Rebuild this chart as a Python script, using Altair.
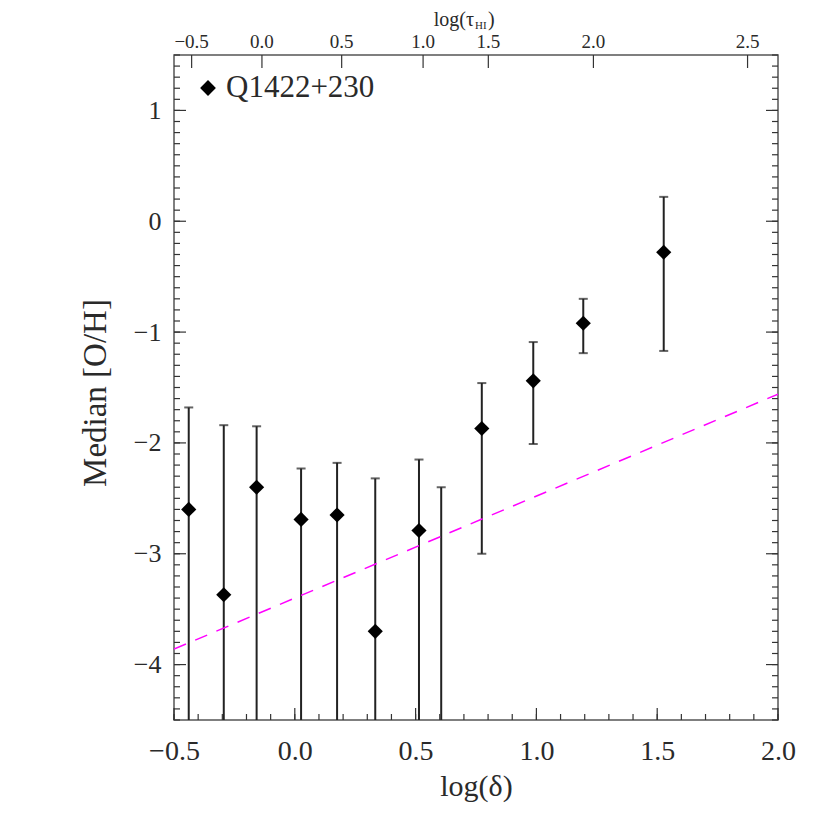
import altair as alt
import pandas as pd
import numpy as np

# ---- data ----
delta = [-0.439, -0.294, -0.158, 0.026, 0.175, 0.333, 0.514, 0.606, 0.774, 0.987, 1.194, 1.527]
median = [-2.60, -3.37, -2.40, -2.69, -2.65, -3.70, -2.79, None, -1.87, -1.44, -0.92, -0.28]
err_hi = [-1.68, -1.84, -1.85, -2.23, -2.18, -2.32, -2.15, -2.40, -1.46, -1.09, -0.70, 0.22]
err_lo = [-5.0, -5.0, -5.0, -5.0, -5.0, -5.0, -5.0, -5.0, -3.00, -2.01, -1.19, -1.17]

line_x = [-0.5, 2.0]
line_y = [-3.86, -1.56]

# top axis: log(tau_HI) labels and their positions on the log(delta) scale
tau_pos = [-0.427, -0.136, 0.194, 0.531, 0.801, 1.236, 1.874]
tau_lab = ["\u22120.5", "0.0", "0.5", "1.0", "1.5", "2.0", "2.5"]

x_major = [-0.5, 0.0, 0.5, 1.0, 1.5, 2.0]
y_major = [-4, -3, -2, -1, 0, 1]

W, H = 604, 665
FONT = "Liberation Serif"
X_DOM = [-0.5, 2.0]
Y_DOM = [-4.5, 1.5]

xs = alt.Scale(domain=X_DOM, nice=False, zero=False)
ys = alt.Scale(domain=Y_DOM, nice=False, zero=False)

pts = pd.DataFrame({"delta": delta, "median": median, "hi": err_hi, "lo": err_lo})
caps_hi = pd.DataFrame({"delta": delta, "y": err_hi})
caps_lo = pd.DataFrame({"delta": delta, "y": err_lo})
caps = pd.concat([caps_hi, caps_lo[caps_lo["y"] > Y_DOM[0]]], ignore_index=True)

x_minor = [round(v, 2) for v in np.arange(-0.5, 2.0001, 0.1)]
y_minor = [round(v, 2) for v in np.arange(-4.5, 1.5001, 0.1)]
xt_min = pd.DataFrame({"v": x_minor})
xt_maj = pd.DataFrame({"v": x_major})
yt_min = pd.DataFrame({"v": y_minor})
yt_maj = pd.DataFrame({"v": y_major})

TICK_COL = "#333333"
TXT = "#2a2a2a"

base_axis_x = alt.Axis(values=x_major, format=".1f", ticks=False, domain=False, grid=False,
                       labelFlush=False, labelOverlap=False, labelPadding=17, labelFontSize=28,
                       title="log(\u03b4)", titlePadding=6, titleFontSize=30)
base_axis_y = alt.Axis(values=y_major, format="d", ticks=False, domain=False, grid=False,
                       labelPadding=13, labelFontSize=26,
                       title="Median  [O/H]", titlePadding=21, titleFontSize=33,
                       titleY=H / 2 + 5)

# error bars
bars = alt.Chart(pts).mark_rule(color="#222222", strokeWidth=2, clip=True).encode(
    x=alt.X("delta:Q", scale=xs, axis=base_axis_x),
    y=alt.Y("lo:Q", scale=ys, axis=base_axis_y),
    y2="hi:Q",
)
capm = alt.Chart(caps).mark_tick(color="#222222", thickness=2, size=9, orient="horizontal").encode(
    x=alt.X("delta:Q", scale=xs), y=alt.Y("y:Q", scale=ys)
)
points = alt.Chart(pts).transform_filter("datum.median != null").mark_point(
    shape="diamond", filled=True, color="black", size=230, opacity=1
).encode(x=alt.X("delta:Q", scale=xs), y=alt.Y("median:Q", scale=ys))

fit = alt.Chart(pd.DataFrame({"x": line_x, "y": line_y})).mark_line(
    color="#ff00ff", strokeWidth=1.5, strokeDash=[13, 10], clip=True
).encode(x=alt.X("x:Q", scale=xs), y=alt.Y("y:Q", scale=ys))


def xticks(df, y0, y1):
    return alt.Chart(df).mark_rule(color=TICK_COL, strokeWidth=1.2).encode(
        x=alt.X("v:Q", scale=xs), y=alt.value(y0), y2=alt.value(y1))


def yticks(df, x0, x1):
    return alt.Chart(df).mark_rule(color=TICK_COL, strokeWidth=1.2).encode(
        y=alt.Y("v:Q", scale=ys), x=alt.value(x0), x2=alt.value(x1))


tick_layers = [
    xticks(xt_min, H, H - 6), xticks(xt_maj, H, H - 12),
    yticks(yt_min, 0, 6), yticks(yt_maj, 0, 12),
    yticks(yt_min, W, W - 6), yticks(yt_maj, W, W - 12),
]

# top axis log(tau_HI)
tdf = pd.DataFrame({"pos": tau_pos, "lab": tau_lab})
top_ticks = alt.Chart(tdf).mark_rule(color=TICK_COL, strokeWidth=1.2).encode(
    x=alt.X("pos:Q", scale=xs), y=alt.value(0), y2=alt.value(13)
)
top_labels = alt.Chart(tdf).mark_text(font=FONT, fontSize=19, color=TXT, baseline="alphabetic").encode(
    x=alt.X("pos:Q", scale=xs), y=alt.value(-7), text="lab:N"
)
top_title = alt.Chart(pd.DataFrame({"t": ["log(\u03c4"]})).mark_text(
    font=FONT, fontSize=20, color=TXT, align="right", baseline="alphabetic"
).encode(x=alt.value(300), y=alt.value(-29), text="t:N")
top_sub = alt.Chart(pd.DataFrame({"s": ["HI"]})).mark_text(
    font=FONT, fontSize=11, color=TXT, align="left", baseline="alphabetic"
).encode(x=alt.value(301), y=alt.value(-26.5), text="s:N")
top_close = alt.Chart(pd.DataFrame({"c": [")"]})).mark_text(
    font=FONT, fontSize=20, color=TXT, align="left", baseline="alphabetic"
).encode(x=alt.value(314), y=alt.value(-29), text="c:N")

# legend
leg_pt = alt.Chart(pd.DataFrame({"k": ["Q1422+230"]})).mark_point(
    shape="diamond", filled=True, color="black", size=250, opacity=1
).encode(x=alt.value(34), y=alt.value(33))
leg_tx = alt.Chart(pd.DataFrame({"k": ["Q1422+230"]})).mark_text(
    font=FONT, fontSize=31, color=TXT, align="left", baseline="middle"
).encode(x=alt.value(52), y=alt.value(33), text="k:N")

chart = alt.layer(
    bars, capm, fit, points, *tick_layers,
    top_ticks, top_labels, top_title, top_sub, top_close, leg_pt, leg_tx
).properties(
    width=W, height=H,
    autosize=alt.AutoSizeParams(type="none"),
    padding={"left": 166, "top": 47, "right": 30, "bottom": 100},
).configure_view(
    stroke="#555555", strokeWidth=1.5
).configure_axis(
    labelFont=FONT, titleFont=FONT,
    labelColor=TXT, titleColor=TXT, titleFontWeight="normal"
)

chart.save("out.html", embed_options={"renderer": "svg", "actions": False})
